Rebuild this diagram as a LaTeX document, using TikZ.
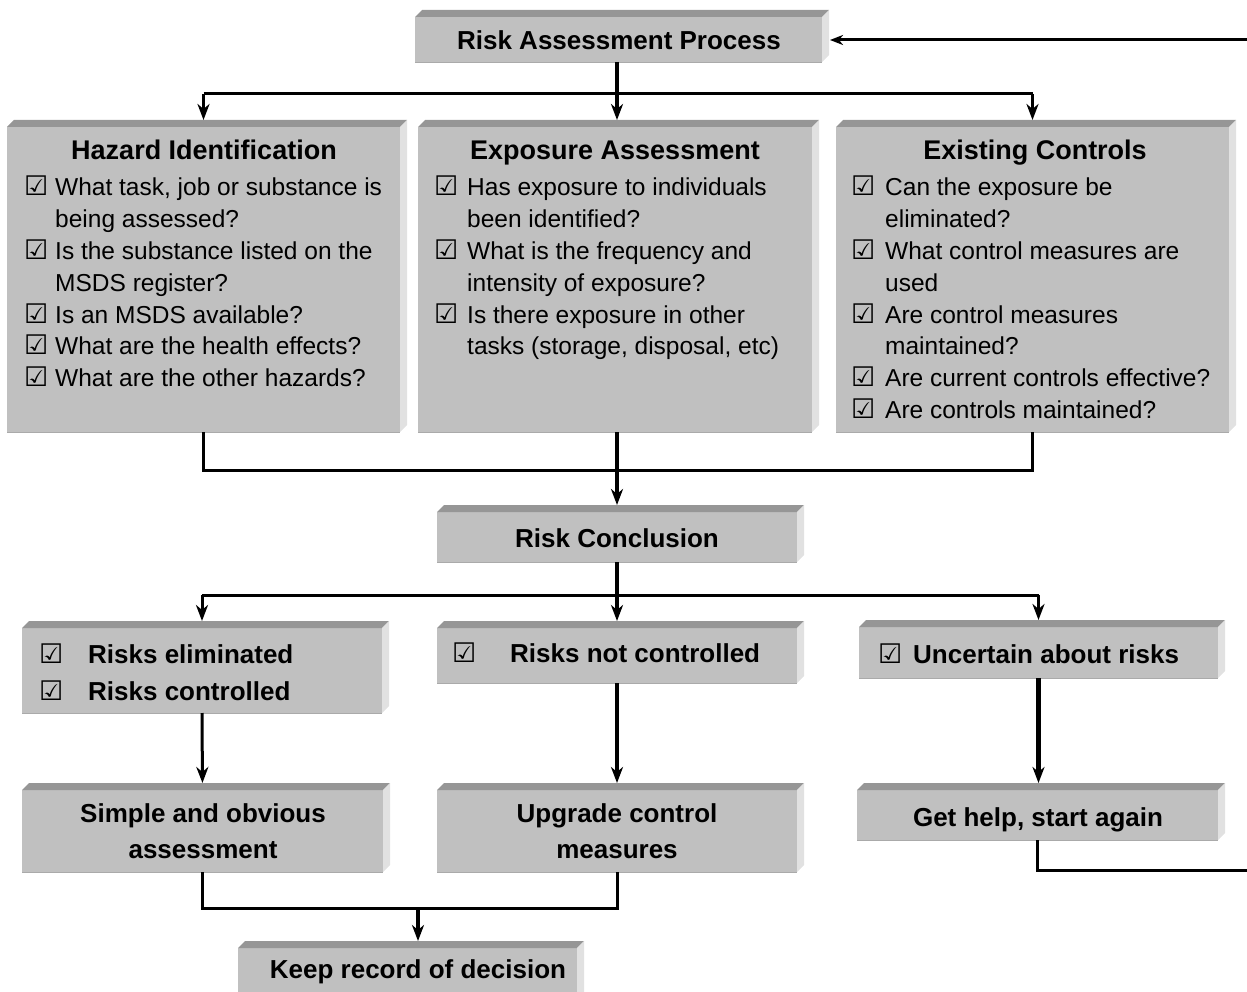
\documentclass[tikz,border=0pt]{standalone}
\usepackage{fontspec}
\setmainfont{Liberation Sans}
\newfontfamily\symf{DejaVu Sans}
\usetikzlibrary{arrows.meta}
\definecolor{frontc}{RGB}{192,192,192}
\definecolor{topc}{RGB}{150,150,150}
\definecolor{sidec}{RGB}{225,225,225}
\definecolor{edgec}{RGB}{170,170,170}
\newcommand{\ck}{{\symf\fontsize{27}{27}\selectfont ☑}}
\newcommand{\bx}[5]{%
  \node[box, minimum width={#4-#2}, minimum height={#5-#3}] (#1) at (#2,#3) {};
  \fill[topc] (#1.north west) -- ++(7,-7) -- ([shift={(7,-7)}]#1.north east) -- (#1.north east) -- cycle;
  \fill[sidec] (#1.north east) -- ++(7,-7) -- ([shift={(7,-7)}]#1.south east) -- (#1.south east) -- cycle;
  \draw[edgec, line width=0.8pt] (#1.south west) -- (#1.south east);
}
\begin{document}
\begin{tikzpicture}[x=1pt,y=-1pt,
  box/.style={fill=frontc, inner sep=0pt, outer sep=0pt, anchor=north west},
  lbl/.style={inner sep=0pt, anchor=base, font=\bfseries\fontsize{26}{36}\selectfont},
  hd/.style={inner sep=0pt, anchor=base, font=\bfseries\fontsize{27}{30}\selectfont},
  lst/.style={inner sep=0pt, anchor=base west, font=\fontsize{24.5}{31.8}\selectfont},
  blst/.style={inner sep=0pt, anchor=base west, font=\bfseries\fontsize{26}{37}\selectfont},
  thk/.style={line width=4.5pt},
  med/.style={line width=3pt},
  arr/.style={-{Stealth[length=16pt,width=12pt,inset=5pt]}, shorten >=7pt},
  line join=miter
]
\useasboundingbox (0,0) rectangle (1247,992);

% boxes
\bx{rap}{415}{17}{822}{62}
\bx{haz}{7}{127}{400}{432}
\bx{exp}{418}{127}{812}{432}
\bx{ctl}{836}{127}{1229}{432}
\bx{rc}{437}{512}{797}{562}
\bx{elim}{22}{628}{382}{713}
\bx{notc}{437}{628}{797}{683}
\bx{unc}{859}{627}{1218}{678}
\bx{simp}{22}{790}{383}{872}
\bx{upg}{437}{790}{797}{872}
\bx{help}{857}{790}{1218}{840}
\bx{keep}{238}{948}{577}{1010}

% texts
\node[lbl] (raptx) at (619,50) {Risk Assessment Process};
\node[hd] (hazh) at (204,160) {Hazard Identification};
\node[hd] (exph) at (615,160) {Exposure Assessment};
\node[hd] (ctlh) at (1035,160) {Existing Controls};

\node[lst] (hazl) at (24,196) {\begin{tabular}[t]{@{}p{31pt}@{}l@{}}
\ck & What task, job or substance is\\
 & being assessed?\\
\ck & Is the substance listed on the\\
 & MSDS register?\\
\ck & Is an MSDS available?\\
\ck & What are the health effects?\\
\ck & What are the other hazards?
\end{tabular}};

\node[lst] (expl) at (434,196) {\begin{tabular}[t]{@{}p{33pt}@{}l@{}}
\ck & Has exposure to individuals\\
 & been identified?\\
\ck & What is the frequency and\\
 & intensity of exposure?\\
\ck & Is there exposure in other\\
 & tasks (storage, disposal, etc)
\end{tabular}};

\node[lst] (ctll) at (851,196) {\begin{tabular}[t]{@{}p{34pt}@{}l@{}}
\ck & Can the exposure be\\
 & eliminated?\\
\ck & What control measures are\\
 & used\\
\ck & Are control measures\\
 & maintained?\\
\ck & Are current controls effective?\\
\ck & Are controls maintained?
\end{tabular}};

\node[lbl] (rctx) at (617,547) {Risk Conclusion};

\node[blst] (eliml) at (39,663) {\begin{tabular}[t]{@{}p{49pt}@{}l@{}}
\ck & Risks eliminated\\
\ck & Risks controlled
\end{tabular}};
\node[blst] (notcl) at (452,662) {\begin{tabular}[t]{@{}p{58pt}@{}l@{}}
\ck & Risks not controlled
\end{tabular}};
\node[blst] (uncl) at (878,663) {\begin{tabular}[t]{@{}p{35pt}@{}l@{}}
\ck & Uncertain about risks
\end{tabular}};

\node[lbl] (simptx) at (203,822) {\begin{tabular}[t]{@{}c@{}}Simple and obvious\\assessment\end{tabular}};
\node[lbl] (upgtx) at (617,822) {\begin{tabular}[t]{@{}c@{}}Upgrade control\\measures\end{tabular}};
\node[lbl] (helptx) at (1038,826) {Get help, start again};
\node[lbl] (keeptx) at (418,978) {Keep record of decision};

% connectors
\coordinate (j1) at (617,94);
\coordinate (j2) at (617,470);
\coordinate (j3) at (617,595);
\coordinate (j4) at (418,908);
\coordinate (fb1) at (1262,870);
\coordinate (fb2) at (1262,40);

\draw[thk] (rap.south -| j1) -- (j1);
\draw[med] (haz.north |- j1) -- (ctl.north |- j1);
\draw[thk, arr] (j1) -- (exp.north -| j1);
\draw[med, arr] (haz.north |- j1) -- (haz.north);
\draw[med, arr] (ctl.north |- j1) -- (ctl.north);

\draw[med] (haz.south) -- (haz.south |- j2) -- (ctl.south |- j2) -- (ctl.south);
\draw[thk] (exp.south -| j2) -- (j2);
\draw[thk, arr] (j2) -- (rc.north);

\draw[thk] (rc.south) -- (j3);
\draw[med] (elim.north |- j3) -- (unc.north |- j3);
\draw[med, arr] (elim.north |- j3) -- (elim.north);
\draw[thk, arr] (j3) -- (notc.north);
\draw[med, arr] (unc.north |- j3) -- (unc.north);

\draw[med, arr] (elim.south) -- (simp.north);
\draw[thk, arr] (notc.south) -- (upg.north);
\draw[thk, arr] (unc.south) -- (help.north -| unc.south);

\draw[med] (simp.south) -- (simp.south |- j4) -- (upg.south |- j4) -- (upg.south);
\draw[thk, arr] (j4) -- (keep.north -| j4);

\draw[med, -{Stealth[length=13pt,width=10pt,inset=4pt]}, shorten >=8pt] (help.south) -- (help.south |- fb1) -- (fb1) -- (fb2) -- (rap.east |- fb2);
\end{tikzpicture}
\end{document}
